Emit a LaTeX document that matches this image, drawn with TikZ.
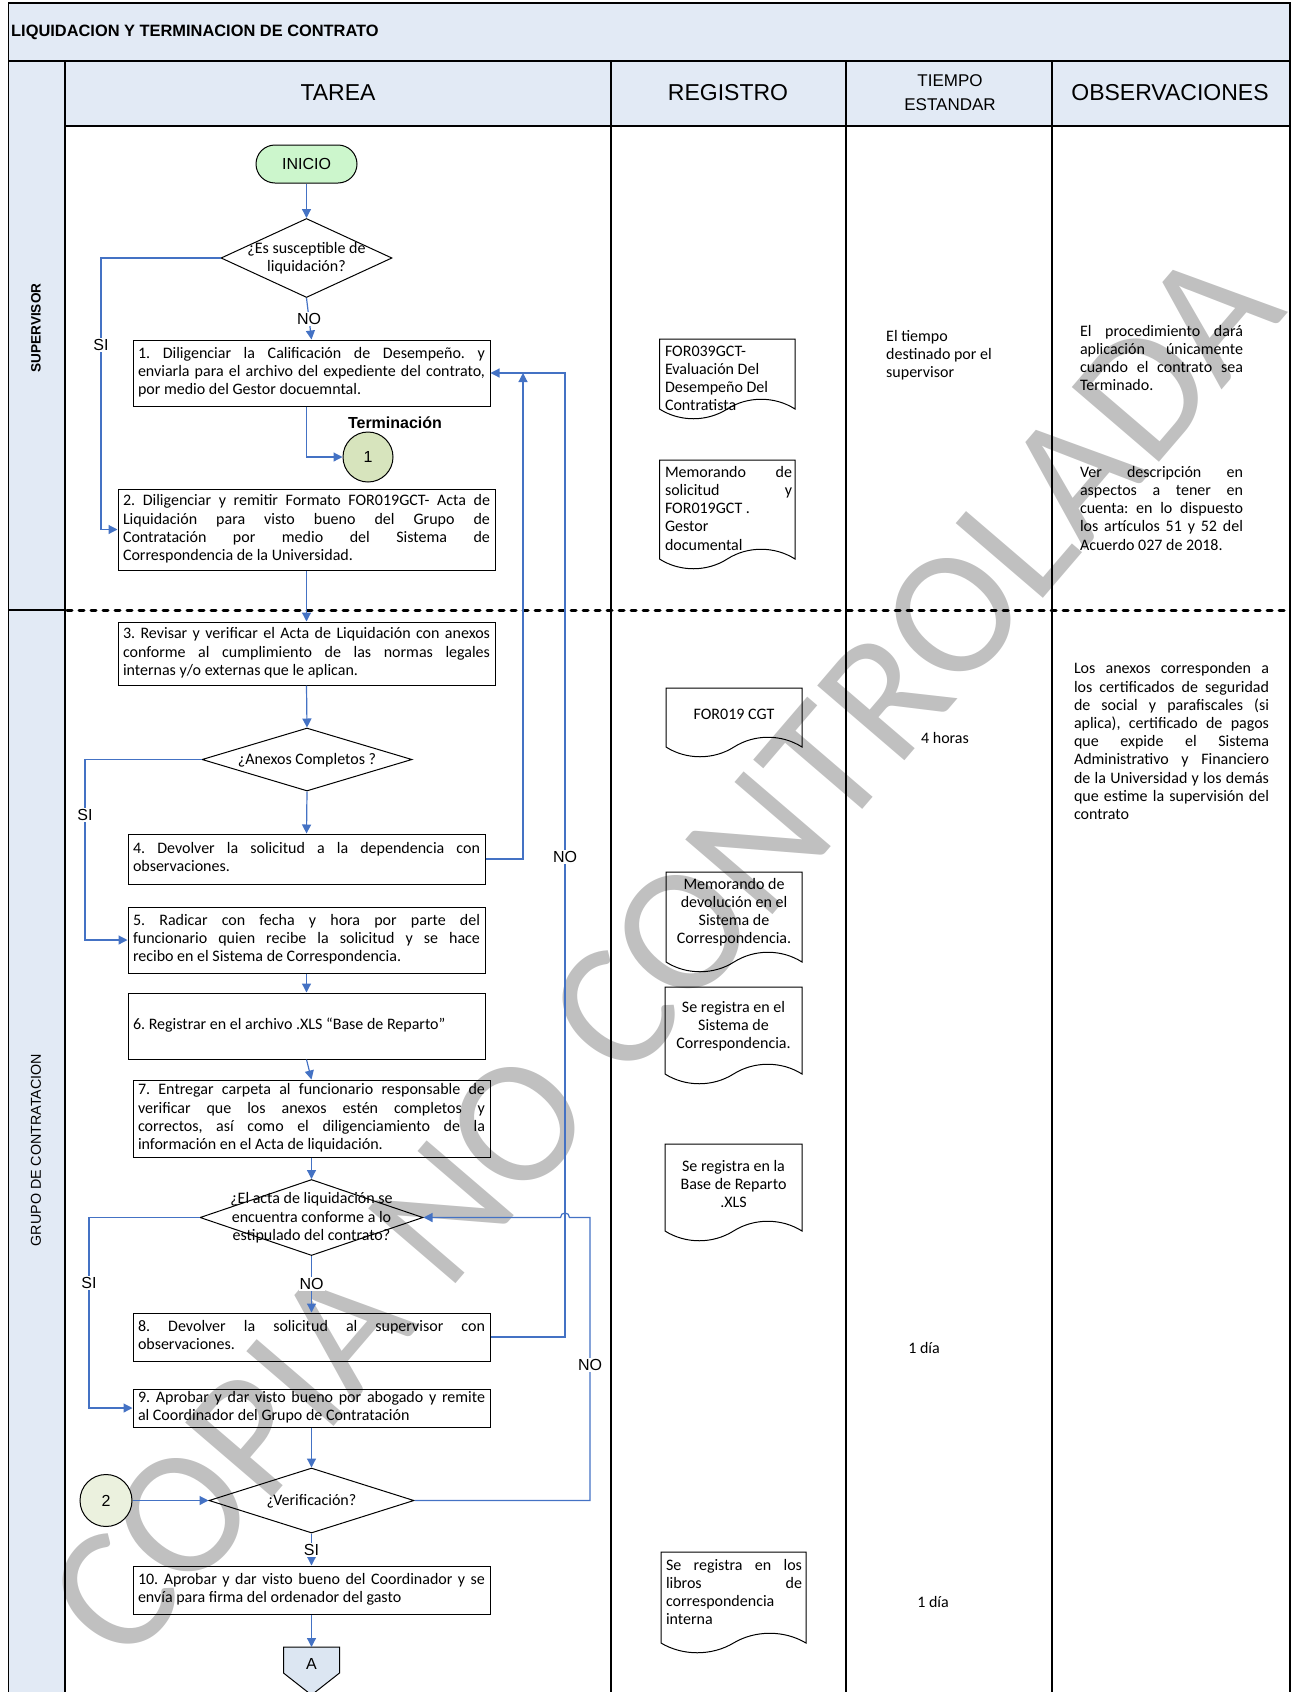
\documentclass[tikz,border=0pt]{standalone}
\usepackage{fontspec}
\setmainfont{Carlito}
\newfontfamily\arialf{Liberation Sans}
\usetikzlibrary{shapes.geometric,arrows.meta}
\setlength{\parindent}{0pt}
\frenchspacing
\definecolor{hdr}{RGB}{226,234,245}
\definecolor{flow}{RGB}{68,114,196}
\definecolor{inig}{RGB}{204,246,204}
\definecolor{conA}{RGB}{215,228,189}
\definecolor{conB}{RGB}{235,241,222}
\definecolor{offp}{RGB}{220,230,242}
\definecolor{wmark}{RGB}{192,192,192}
\newcommand\bsz{\fontsize{16}{18.2}\selectfont}
\newcommand\asz{\arialf\fontsize{16}{18}\selectfont}
\newcommand\jl[1]{\makebox[\hsize][s]{\spaceskip=0pt\xspaceskip=0pt\strut #1}\\}
\newcommand\docpath[4]{%
  \draw[docl] (#1,#2) -- (#3,#2) -- (#3,#4)
    .. controls ({#3-0.15*(#3-#1)},{#4-13}) and ({#3-0.35*(#3-#1)},{#4-13}) .. ({0.5*(#1+#3)},#4)
    .. controls ({#1+0.35*(#3-#1)},{#4+13}) and ({#1+0.15*(#3-#1)},{#4+13}) .. (#1,#4) -- cycle;}
\tikzset{
  natsp/.style={execute at begin node={\spaceskip=0pt\xspaceskip=0pt}},
  tline/.style={draw=black, line width=1.2pt},
  docl/.style={draw=black, line width=1pt},
  task/.style={draw=black, line width=1pt, rectangle, inner xsep=5pt, inner ysep=0pt, align=left, font=\bsz, natsp},
  dia/.style={diamond, draw=black, line width=1pt, inner sep=0pt},
  dtext/.style={font=\bsz, align=center, inner sep=0pt, natsp},
  regt/.style={font=\bsz, inner sep=0pt, natsp},
  arr/.style={draw=flow, line width=1.2pt, -{Triangle[length=9pt,width=9pt]}},
  lbl/.style={font=\asz, fill=white, inner sep=1pt},
}
\begin{document}
\begin{tikzpicture}[x=1pt,y=-1pt]
\useasboundingbox (0,0) rectangle (1291,1692);
% ---- table background
\fill[hdr] (8.6,3) rectangle (1290,61);
\fill[hdr] (65,61) rectangle (1290,126);
\fill[hdr] (8.6,61) rectangle (65,1700);
% ---- watermark
\node[rotate=49.4, text=wmark, font=\fontsize{179}{179}\selectfont, inner sep=0pt] (wm) at (664,953) {COPIA NO CONTROLADA};
% ---- table lines
\draw[tline] (8.6,61) -- (1290,61);
\draw[tline] (65,126) -- (1290,126);
\draw[tline] (65,61) -- (65,1700);
\draw[tline] (611,61) -- (611,1700);
\draw[tline] (846,61) -- (846,1700);
\draw[tline] (1052,61) -- (1052,1700);
\draw[tline] (8.6,610) -- (65,610);
\draw[black, line width=3pt, line cap=round, dash pattern=on 5pt off 7pt] (67,610) -- (1290,610);
\draw[black, line width=1.6pt] (8.6,1700) -- (8.6,3) -- (1290,3) -- (1290,1700);
% ---- header texts
\node[anchor=west, font=\arialf\bfseries\fontsize{16.4}{18}\selectfont, inner sep=0pt] (title) at (11,32) {LIQUIDACION Y TERMINACION DE CONTRATO};
\node[font=\arialf\fontsize{23}{26}\selectfont] (hTarea) at (338,93) {TAREA};
\node[font=\arialf\fontsize{23}{26}\selectfont] (hReg) at (728,93) {REGISTRO};
\node[font=\arialf\fontsize{17}{24}\selectfont, align=center] (hTiempo) at (950,93) {TIEMPO\\ESTANDAR};
\node[font=\arialf\fontsize{23}{26}\selectfont] (hObs) at (1170,93) {OBSERVACIONES};
\node[rotate=90, font=\arialf\bfseries\fontsize{13.6}{15}\selectfont] (lsup) at (36,328) {SUPERVISOR};
\node[rotate=90, font=\arialf\fontsize{14.3}{16}\selectfont] (lgrp) at (36,1150) {GRUPO DE CONTRATACION};
% ---- flow nodes
\node[draw=black, line width=1pt, fill=inig, rounded corners=19pt, minimum width=101pt, minimum height=38pt, font=\asz] (ini) at (306.5,164) {INICIO};
\node[dia, minimum width=171pt, minimum height=79pt] (d1) at (306.5,258) {};
\node[dtext] (d1t) at (306.5,259) {\strut ¿Es susceptible de\\\strut liquidación?};
\node[task, minimum width=357pt, minimum height=66pt, text width=347pt] (b1) at (311.5,373)
 {\jl{1. Diligenciar la Calificación de Desempeño. y}\jl{enviarla para el archivo del expediente del contrato,}\strut por medio del Gestor docuemntal.};
\node[circle, draw=black, line width=1pt, fill=conA, minimum size=50pt, inner sep=0pt, font=\asz] (c1) at (368,457) {1};
\node[font=\arialf\bfseries\fontsize{16}{18}\selectfont] (term) at (395,423) {Terminación};
\node[task, minimum width=377pt, minimum height=81pt, text width=367pt] (b2) at (306.5,529.5)
 {\jl{2. Diligenciar y remitir Formato FOR019GCT- Acta de}\jl{Liquidación para visto bueno del Grupo de}\jl{Contratación por medio del Sistema de}\strut Correspondencia de la Universidad.};
\node[task, minimum width=377pt, minimum height=63pt, text width=367pt] (b3) at (306.5,653.5)
 {\jl{3. Revisar y verificar el Acta de Liquidación con anexos}\jl{conforme al cumplimiento de las normas legales}\strut internas y/o externas que le aplican.};
\node[dia, minimum width=210pt, minimum height=63pt] (d2) at (307,759.5) {};
\node[dtext] (d2t) at (307,760.5) {\strut ¿Anexos Completos ?};
\node[task, minimum width=357pt, minimum height=50pt, text width=347pt] (b4) at (306.5,859)
 {\jl{4. Devolver la solicitud a la dependencia con}\strut observaciones.};
\node[task, minimum width=357pt, minimum height=66pt, text width=347pt] (b5) at (306.5,940)
 {\jl{5. Radicar con fecha y hora por parte del}\jl{funcionario quien recibe la solicitud y se hace}\strut recibo en el Sistema de Correspondencia.};
\node[task, minimum width=357pt, minimum height=66pt, text width=347pt] (b6) at (306.5,1026)
 {\strut 6. Registrar en el archivo .XLS “Base de Reparto”};
\node[task, minimum width=357pt, minimum height=77pt, text width=347pt] (b7) at (311.5,1118.5)
 {\jl{7. Entregar carpeta al funcionario responsable de}\jl{verificar que los anexos estén completos y}\jl{correctos, así como el diligenciamiento de la}\strut información en el Acta de liquidación.};
\node[dia, minimum width=223pt, minimum height=76pt] (d3) at (311.5,1217.5) {};
\node[dtext] (d3t) at (311.5,1218.5) {\strut ¿El acta de liquidación se\\\strut encuentra conforme a lo\\\strut estipulado del contrato?};
\node[task, minimum width=357pt, minimum height=48pt, text width=347pt] (b8) at (311.5,1337)
 {\jl{8. Devolver la solicitud al supervisor con}\strut observaciones.};
\node[task, minimum width=357pt, minimum height=38pt, text width=347pt] (b9) at (311.5,1408)
 {\jl{9. Aprobar y dar visto bueno por abogado y remite}\strut al Coordinador del Grupo de Contratación};
\node[dia, minimum width=205pt, minimum height=65pt] (d4) at (311.5,1500.5) {};
\node[dtext] (d4t) at (311.5,1501.5) {\strut ¿Verificación?};
\node[circle, draw=black, line width=1pt, fill=conB, minimum size=52pt, inner sep=0pt, font=\asz] (c2) at (106,1500.5) {2};
\node[task, minimum width=357pt, minimum height=48pt, text width=347pt] (b10) at (311.5,1590)
 {\jl{10. Aprobar y dar visto bueno del Coordinador y se}\strut envía para firma del ordenador del gasto};
\draw[line width=1pt, fill=offp] (283.5,1647) -- (339.5,1647) -- (339.5,1673) -- (311.5,1695) -- (283.5,1673) -- cycle;
\coordinate (pAtop) at (311.5,1647);
\node[font=\asz] (pA) at (311.5,1664) {A};
% ---- registro documents
\docpath{659.5}{339}{795}{409}
\node[regt, text width=125pt, align=left] (r1) at (727.5,380) {\strut FOR039GCT-\\\strut Evaluación Del\\\strut Desempeño Del\\\strut Contratista};
\docpath{659.5}{460}{795}{559}
\node[regt, text width=127pt, align=left] (r2) at (728.5,510) {\jl{Memorando de}\jl{solicitud y}\strut FOR019GCT .\\\strut Gestor\\\strut documental};
\docpath{666}{688}{802}{747}
\node[regt, align=center] (r3) at (734,716) {\strut FOR019 CGT};
\docpath{666}{872}{802}{962}
\node[regt, align=center] (r4) at (734,913) {\strut Memorando de\\\strut devolución en el\\\strut Sistema de\\\strut Correspondencia.};
\docpath{665}{987}{802}{1074}
\node[regt, align=center] (r5) at (733.5,1027) {\strut Se registra en el\\\strut Sistema de\\\strut Correspondencia.};
\docpath{665}{1144}{802}{1231}
\node[regt, align=center] (r6) at (733.5,1186) {\strut Se registra en la\\\strut Base de Reparto\\\strut .XLS};
\docpath{661}{1552}{806}{1643}
\node[regt, text width=136pt, align=left] (r7) at (734,1594) {\jl{Se registra en los}\jl{libros de}\strut correspondencia\\\strut interna};
% ---- tiempo
\node[regt, anchor=west, align=left] (t1) at (886,356) {\strut El tiempo\\\strut destinado por el\\\strut supervisor};
\node[regt] (t2) at (945,740) {\strut 4 horas};
\node[regt] (t3) at (924,1350) {\strut 1 día};
\node[regt] (t4) at (933,1604) {\strut 1 día};
% ---- observaciones
\node[regt, text width=163pt, align=left] (o1) at (1161.5,360) {\jl{El procedimiento dará}\jl{aplicación únicamente}\jl{cuando el contrato sea}\strut Terminado.};
\node[regt, text width=163pt, align=left] (o2) at (1161.5,510) {\jl{Ver descripción en}\jl{aspectos a tener en}\jl{cuenta: en lo dispuesto}\jl{los artículos 51 y 52 del}\strut Acuerdo 027 de 2018.};
\node[regt, text width=195pt, align=left] (o3) at (1171.5,743) {\jl{Los anexos corresponden a}\jl{los certificados de seguridad}\jl{de social y parafiscales (si}\jl{aplica), certificado de pagos}\jl{que expide el Sistema}\jl{Administrativo y Financiero}\jl{de la Universidad y los demás}\jl{que estime la supervisión del}\strut contrato};
% ---- connectors
\coordinate (xa) at (101,0);
\coordinate (xb) at (85,0);
\coordinate (xc) at (89,0);
\coordinate (xj) at (523,0);
\coordinate (xr) at (565,0);
\coordinate (xv) at (590,0);
\coordinate (hopR) at (569.5,1217.5);
\coordinate (hopL) at (560.5,1217.5);
\draw[arr] (ini.south) -- (d1.north);
\draw[arr] (d1.south) -- (b1.north);
\draw[arr] (d1.west) -| (b2.west -| xa) -- (b2.west);
\draw[arr] (b1.south -| ini.south) |- (c1.west);
\draw[arr] (b2.south) -- (b3.north);
\draw[arr] (b3.south) -- (d2.north);
\draw[arr] (d2.south) -- (b4.north);
\draw[arr] (d2.west) -| (b5.west -| xb) -- (b5.west);
\draw[arr] (b4.east) -| (b1.east -| xj);
\draw[arr] (b5.south) -- (b6.north);
\draw[arr] (b6.south) -- (b7.north);
\draw[arr] (b7.south) -- (d3.north);
\draw[arr] (d3.south) -- (b8.north);
\draw[arr] (d3.west) -| (b9.west -| xc) -- (b9.west);
\draw[arr] (b8.east) -| (b1.east -| xr) -- (b1.east);
\draw[arr] (b9.south) -- (d4.north);
\draw[arr] (c2.east) -- (d4.west);
\draw[arr] (d4.south) -- (b10.north);
\draw[arr] (d4.east) -| (d3.east -| xv) -- (hopR) .. controls +(0,-6) and +(0,-6) .. (hopL) -- (d3.east);
\draw[arr] (b10.south) -- (pAtop);
% ---- connector labels
\node[lbl] (lno1) at (309,319) {NO};
\node[lbl] (lsi1) at (101,345) {SI};
\node[lbl] (lsi2) at (85,815) {SI};
\node[lbl] (lno2) at (565,857) {NO};
\node[lbl] (lno3) at (311.5,1284) {NO};
\node[lbl] (lsi3) at (89,1283) {SI};
\node[lbl] (lno4) at (590,1365) {NO};
\node[lbl] (lsi4) at (311.5,1550) {SI};
\end{tikzpicture}
\end{document}
